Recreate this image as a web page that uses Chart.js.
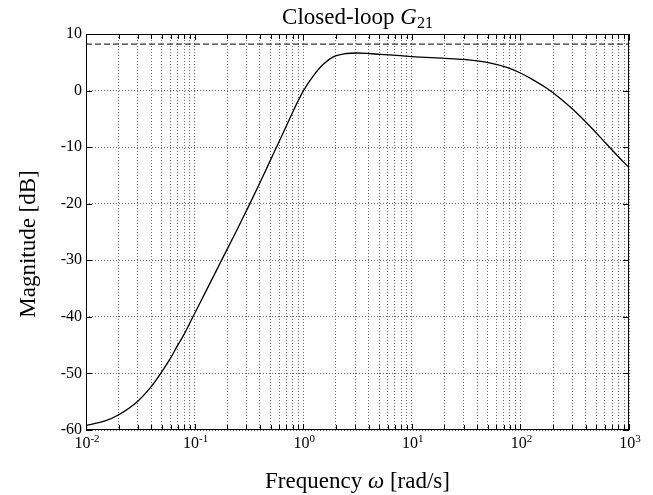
<!DOCTYPE html>
<html>
<head>
<meta charset="utf-8">
<script src="https://cdn.jsdelivr.net/npm/chart.js@4.4.1/dist/chart.umd.min.js"></script>
<style>
  html, body { margin: 0; padding: 0; background: #fff; }
  #wrap { width: 653px; height: 495px; }
</style>
</head>
<body>
<div id="wrap"><canvas id="bode"></canvas></div>
<script>
// frequency [rad/s] and magnitude [dB]
const freq = [0.01, 0.015, 0.02, 0.03, 0.04, 0.05, 0.06, 0.07, 0.08, 0.1, 0.13, 0.175, 0.24, 0.319, 0.42, 0.537, 0.65, 0.81, 1.0,
              1.24, 1.53, 1.89, 2.5, 3.1, 4, 5.1, 7.8, 10, 20, 30, 40, 52, 75, 99, 131, 175, 230, 307, 437, 624, 887, 1000];
const magDb = [-59.2, -58.4, -57.3, -54.9, -52.3, -49.7, -47.3, -45.0, -43.1, -39.4, -35.1, -30.2, -25.0, -20.2, -15.4, -11.0, -7.6, -3.6, -0.1,
               2.6, 4.65, 5.95, 6.55, 6.64, 6.55, 6.4, 6.17, 6.0, 5.7, 5.5, 5.25, 4.9, 4.1, 3.15, 1.9, 0.4, -1.3, -3.4, -6.3, -9.5, -12.6, -13.6];
const limitDb = 8.2;
const decades = [0.01, 0.1, 1, 10, 100, 1000];
const decadeExp = ['-2', '-1', '0', '1', '2', '3'];
const yTicks = [-60, -50, -40, -30, -20, -10, 0, 10];

const serif = '"Liberation Serif", "DejaVu Serif", serif';

// ticks at 1..9 x 10^n
function logTicks() {
  const out = [];
  decades.forEach((d, i) => {
    if (i === decades.length - 1) { out.push({value: d}); return; }
    for (let k = 1; k < 10; k++) out.push({value: +(k * d).toPrecision(3)});
  });
  return out;
}

function drawParts(ctx, parts, x, y, align) {
  let w = 0;
  parts.forEach(p => { ctx.font = p.f; w += ctx.measureText(p.t).width; });
  if (align === 'center') x -= w / 2;
  ctx.textAlign = 'left';
  parts.forEach(p => {
    ctx.font = p.f;
    ctx.fillText(p.t, x, y + p.dy);
    x += ctx.measureText(p.t).width;
  });
}

// title, axis captions, decade labels and inward tick marks
const decor = {
  id: 'decor',
  afterDraw(chart) {
    const {ctx, chartArea: a, scales} = chart;
    ctx.save();
    ctx.strokeStyle = '#000';
    ctx.lineWidth = 1;
    ctx.beginPath();
    scales.x.ticks.forEach(t => {
      const px = Math.round(scales.x.getPixelForValue(t.value)) + 0.5;
      const len = decades.includes(t.value) ? 6 : 5;
      ctx.moveTo(px, a.bottom); ctx.lineTo(px, a.bottom - len);
      ctx.moveTo(px, a.top); ctx.lineTo(px, a.top + len);
    });
    scales.y.ticks.forEach(t => {
      const py = Math.round(scales.y.getPixelForValue(t.value)) + 0.5;
      ctx.moveTo(a.left, py); ctx.lineTo(a.left + 6, py);
      ctx.moveTo(a.right, py); ctx.lineTo(a.right - 6, py);
    });
    ctx.stroke();
    ctx.strokeRect(a.left + 0.5, a.top + 0.5, a.right - a.left - 1, a.bottom - a.top - 1);

    ctx.fillStyle = '#000';
    ctx.textBaseline = 'alphabetic';
    // decade labels 10^n
    decades.forEach((d, i) => {
      const px = scales.x.getPixelForValue(d);
      drawParts(ctx, [
        {t: '10', f: '16px ' + serif, dy: 0},
        {t: decadeExp[i], f: '11px ' + serif, dy: -6}
      ], px + 1, a.bottom + 18, 'center');
    });
    const cx = (a.left + a.right) / 2;
    // title: Closed-loop G21
    drawParts(ctx, [
      {t: 'Closed-loop ', f: '23px ' + serif, dy: 0},
      {t: 'G', f: 'italic 23px ' + serif, dy: 0},
      {t: '21', f: '16px ' + serif, dy: 4}
    ], cx, 24, 'center');
    // x caption
    drawParts(ctx, [
      {t: 'Frequency ', f: '23px ' + serif, dy: 0},
      {t: 'ω', f: 'italic 23px ' + serif, dy: 0},
      {t: ' [rad/s]', f: '23px ' + serif, dy: 0}
    ], cx, 488, 'center');
    // y caption
    ctx.translate(29, 244);
    ctx.rotate(-Math.PI / 2);
    ctx.font = '23px ' + serif;
    ctx.textAlign = 'center';
    ctx.textBaseline = 'middle';
    ctx.fillText('Magnitude [dB]', 0, 0);
    ctx.restore();
  }
};

const gridStyle = {
  color: '#444',
  lineWidth: 0.8,
  drawTicks: false
};
const dotted = {display: false, dash: [1, 2]};

new Chart(document.getElementById('bode'), {
  type: 'line',
  data: {
    datasets: [
      {
        data: freq.map((f, i) => ({x: f, y: magDb[i]})),
        borderColor: '#000',
        borderWidth: 1.3,
        pointRadius: 0,
        cubicInterpolationMode: 'monotone'
      },
      {
        data: [{x: decades[0], y: limitDb}, {x: decades[decades.length - 1], y: limitDb}],
        borderColor: '#333',
        borderWidth: 1.2,
        borderDash: [6, 3],
        pointRadius: 0
      }
    ]
  },
  options: {
    responsive: true,
    maintainAspectRatio: false,
    animation: false,
    layout: {padding: {left: 0, right: 24, top: 34, bottom: 38}},
    plugins: {legend: {display: false}, tooltip: {enabled: false}},
    scales: {
      x: {
        type: 'logarithmic',
        min: 0.01,
        max: 1000,
        afterBuildTicks: s => { s.ticks = logTicks(); },
        afterFit: s => { s.height = 27; },
        grid: gridStyle,
        border: dotted,
        ticks: {display: false, autoSkip: false}
      },
      y: {
        min: -60,
        max: 10,
        afterBuildTicks: s => { s.ticks = yTicks.map(v => ({value: v})); },
        afterFit: s => { s.width = 86; },
        grid: gridStyle,
        border: dotted,
        ticks: {
          padding: 4,
          color: '#000',
          font: {family: serif, size: 16}
        }
      }
    }
  },
  plugins: [decor]
});
</script>
</body>
</html>
